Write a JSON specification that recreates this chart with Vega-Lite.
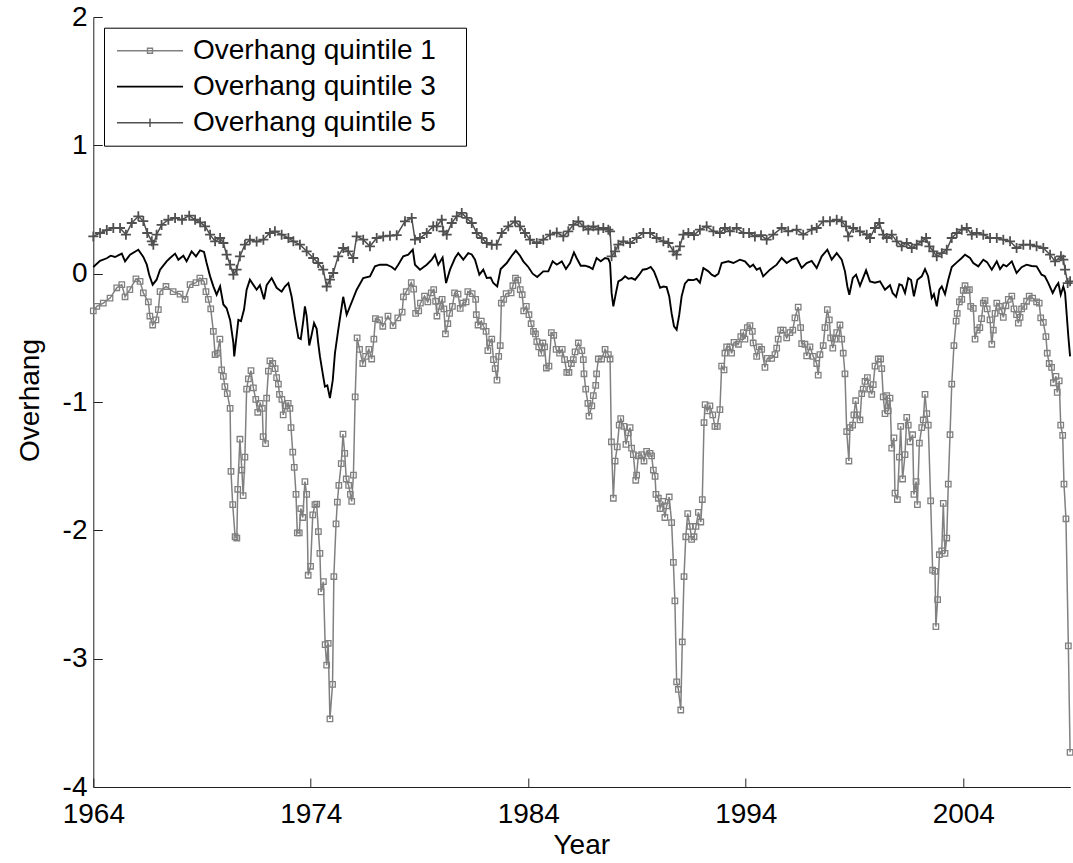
{
"$schema": "https://vega.github.io/schema/vega-lite/v6.json",
"width": 977, "height": 770,
"autosize": {"type": "none"},
"padding": {"left": 93.3, "top": 17, "right": 2.7, "bottom": 76},
"background": "white",
"config": {"view": {"stroke": null}, "font": "Liberation Sans"},
"datasets": {
"q1": [
{"t":1964.00,"v":-0.29},{"t":1964.16,"v":-0.255},{"t":1964.46,"v":-0.23},{"t":1964.77,"v":-0.19},{"t":1965.08,"v":-0.11},{"t":1965.31,"v":-0.086},{"t":1965.46,"v":-0.18},{"t":1965.68,"v":-0.125},{"t":1965.96,"v":-0.04},{"t":1966.15,"v":-0.06},{"t":1966.30,"v":-0.15},{"t":1966.53,"v":-0.22},{"t":1966.60,"v":-0.33},{"t":1966.73,"v":-0.40},{"t":1966.88,"v":-0.36},{"t":1966.99,"v":-0.28},{"t":1967.07,"v":-0.14},{"t":1967.34,"v":-0.10},{"t":1967.67,"v":-0.14},{"t":1967.99,"v":-0.16},{"t":1968.22,"v":-0.20},{"t":1968.45,"v":-0.086},{"t":1968.72,"v":-0.07},{"t":1968.90,"v":-0.034},{"t":1969.09,"v":-0.06},{"t":1969.18,"v":-0.14},{"t":1969.29,"v":-0.20},{"t":1969.40,"v":-0.275},{"t":1969.52,"v":-0.45},{"t":1969.60,"v":-0.63},{"t":1969.70,"v":-0.62},{"t":1969.82,"v":-0.51},{"t":1969.90,"v":-0.75},{"t":1969.98,"v":-0.80},{"t":1970.05,"v":-0.88},{"t":1970.16,"v":-0.935},{"t":1970.29,"v":-1.05},{"t":1970.33,"v":-1.54},{"t":1970.41,"v":-1.80},{"t":1970.52,"v":-2.05},{"t":1970.60,"v":-2.06},{"t":1970.64,"v":-1.68},{"t":1970.74,"v":-1.29},{"t":1970.83,"v":-1.53},{"t":1970.89,"v":-1.73},{"t":1970.97,"v":-1.43},{"t":1971.05,"v":-0.90},{"t":1971.13,"v":-0.82},{"t":1971.25,"v":-0.756},{"t":1971.36,"v":-0.89},{"t":1971.47,"v":-0.98},{"t":1971.56,"v":-1.08},{"t":1971.67,"v":-1.01},{"t":1971.77,"v":-1.05},{"t":1971.81,"v":-1.27},{"t":1971.92,"v":-1.325},{"t":1971.97,"v":-0.97},{"t":1972.05,"v":-0.76},{"t":1972.12,"v":-0.68},{"t":1972.25,"v":-0.70},{"t":1972.36,"v":-0.74},{"t":1972.43,"v":-0.81},{"t":1972.51,"v":-0.86},{"t":1972.56,"v":-0.94},{"t":1972.67,"v":-0.98},{"t":1972.73,"v":-1.10},{"t":1972.86,"v":-1.03},{"t":1972.96,"v":-1.01},{"t":1973.04,"v":-1.05},{"t":1973.09,"v":-1.20},{"t":1973.17,"v":-1.39},{"t":1973.24,"v":-1.51},{"t":1973.32,"v":-1.72},{"t":1973.38,"v":-2.02},{"t":1973.47,"v":-2.02},{"t":1973.54,"v":-1.83},{"t":1973.63,"v":-1.90},{"t":1973.73,"v":-1.62},{"t":1973.81,"v":-1.72},{"t":1973.88,"v":-2.35},{"t":1973.99,"v":-2.28},{"t":1974.09,"v":-1.88},{"t":1974.19,"v":-1.80},{"t":1974.27,"v":-1.795},{"t":1974.35,"v":-2.01},{"t":1974.42,"v":-2.18},{"t":1974.47,"v":-2.48},{"t":1974.58,"v":-2.40},{"t":1974.66,"v":-2.89},{"t":1974.73,"v":-3.05},{"t":1974.80,"v":-2.88},{"t":1974.88,"v":-3.47},{"t":1975.00,"v":-3.20},{"t":1975.06,"v":-2.36},{"t":1975.16,"v":-1.95},{"t":1975.22,"v":-1.78},{"t":1975.29,"v":-1.65},{"t":1975.40,"v":-1.48},{"t":1975.48,"v":-1.25},{"t":1975.56,"v":-1.40},{"t":1975.63,"v":-1.60},{"t":1975.74,"v":-1.65},{"t":1975.82,"v":-1.72},{"t":1975.88,"v":-1.775},{"t":1975.96,"v":-1.57},{"t":1976.04,"v":-0.96},{"t":1976.13,"v":-0.50},{"t":1976.24,"v":-0.59},{"t":1976.39,"v":-0.70},{"t":1976.52,"v":-0.645},{"t":1976.67,"v":-0.59},{"t":1976.80,"v":-0.665},{"t":1976.90,"v":-0.51},{"t":1976.97,"v":-0.35},{"t":1977.16,"v":-0.36},{"t":1977.31,"v":-0.41},{"t":1977.55,"v":-0.33},{"t":1977.78,"v":-0.405},{"t":1978.00,"v":-0.345},{"t":1978.20,"v":-0.30},{"t":1978.26,"v":-0.18},{"t":1978.39,"v":-0.14},{"t":1978.62,"v":-0.07},{"t":1978.73,"v":-0.12},{"t":1978.82,"v":-0.31},{"t":1978.96,"v":-0.29},{"t":1979.04,"v":-0.23},{"t":1979.23,"v":-0.175},{"t":1979.38,"v":-0.22},{"t":1979.54,"v":-0.15},{"t":1979.65,"v":-0.125},{"t":1979.74,"v":-0.215},{"t":1979.80,"v":-0.33},{"t":1979.92,"v":-0.255},{"t":1980.04,"v":-0.20},{"t":1980.12,"v":-0.275},{"t":1980.19,"v":-0.47},{"t":1980.30,"v":-0.39},{"t":1980.38,"v":-0.31},{"t":1980.51,"v":-0.255},{"t":1980.61,"v":-0.15},{"t":1980.77,"v":-0.16},{"t":1980.87,"v":-0.27},{"t":1980.99,"v":-0.23},{"t":1981.14,"v":-0.22},{"t":1981.22,"v":-0.14},{"t":1981.42,"v":-0.156},{"t":1981.58,"v":-0.20},{"t":1981.61,"v":-0.32},{"t":1981.69,"v":-0.40},{"t":1981.84,"v":-0.37},{"t":1981.94,"v":-0.41},{"t":1982.06,"v":-0.45},{"t":1982.14,"v":-0.60},{"t":1982.22,"v":-0.54},{"t":1982.32,"v":-0.51},{"t":1982.40,"v":-0.67},{"t":1982.48,"v":-0.74},{"t":1982.56,"v":-0.83},{"t":1982.64,"v":-0.645},{"t":1982.71,"v":-0.56},{"t":1982.76,"v":-0.23},{"t":1982.87,"v":-0.20},{"t":1982.98,"v":-0.156},{"t":1983.21,"v":-0.15},{"t":1983.29,"v":-0.094},{"t":1983.41,"v":-0.034},{"t":1983.52,"v":-0.05},{"t":1983.63,"v":-0.125},{"t":1983.72,"v":-0.164},{"t":1983.79,"v":-0.29},{"t":1983.91,"v":-0.255},{"t":1984.03,"v":-0.32},{"t":1984.13,"v":-0.39},{"t":1984.24,"v":-0.45},{"t":1984.33,"v":-0.47},{"t":1984.39,"v":-0.53},{"t":1984.48,"v":-0.57},{"t":1984.60,"v":-0.62},{"t":1984.67,"v":-0.54},{"t":1984.75,"v":-0.57},{"t":1984.83,"v":-0.735},{"t":1984.95,"v":-0.72},{"t":1985.06,"v":-0.46},{"t":1985.17,"v":-0.48},{"t":1985.28,"v":-0.59},{"t":1985.44,"v":-0.62},{"t":1985.56,"v":-0.59},{"t":1985.67,"v":-0.67},{"t":1985.77,"v":-0.77},{"t":1985.87,"v":-0.77},{"t":1985.98,"v":-0.70},{"t":1986.07,"v":-0.67},{"t":1986.15,"v":-0.61},{"t":1986.30,"v":-0.54},{"t":1986.46,"v":-0.60},{"t":1986.53,"v":-0.67},{"t":1986.56,"v":-0.78},{"t":1986.64,"v":-0.90},{"t":1986.74,"v":-1.01},{"t":1986.79,"v":-1.11},{"t":1986.92,"v":-1.03},{"t":1986.99,"v":-0.95},{"t":1987.10,"v":-0.87},{"t":1987.14,"v":-0.78},{"t":1987.22,"v":-0.665},{"t":1987.37,"v":-0.665},{"t":1987.53,"v":-0.59},{"t":1987.68,"v":-0.63},{"t":1987.76,"v":-0.665},{"t":1987.82,"v":-1.31},{"t":1987.91,"v":-1.75},{"t":1987.99,"v":-1.46},{"t":1988.09,"v":-1.35},{"t":1988.18,"v":-1.18},{"t":1988.25,"v":-1.13},{"t":1988.40,"v":-1.19},{"t":1988.49,"v":-1.33},{"t":1988.60,"v":-1.24},{"t":1988.68,"v":-1.20},{"t":1988.75,"v":-1.36},{"t":1988.83,"v":-1.41},{"t":1988.94,"v":-1.61},{"t":1988.98,"v":-1.57},{"t":1989.06,"v":-1.42},{"t":1989.21,"v":-1.41},{"t":1989.32,"v":-1.46},{"t":1989.44,"v":-1.385},{"t":1989.60,"v":-1.40},{"t":1989.67,"v":-1.42},{"t":1989.75,"v":-1.53},{"t":1989.83,"v":-1.58},{"t":1989.87,"v":-1.72},{"t":1989.98,"v":-1.75},{"t":1990.06,"v":-1.83},{"t":1990.18,"v":-1.775},{"t":1990.28,"v":-1.90},{"t":1990.36,"v":-1.81},{"t":1990.48,"v":-1.74},{"t":1990.59,"v":-1.94},{"t":1990.67,"v":-2.25},{"t":1990.74,"v":-2.55},{"t":1990.82,"v":-3.18},{"t":1990.90,"v":-3.24},{"t":1991.01,"v":-3.40},{"t":1991.08,"v":-2.87},{"t":1991.16,"v":-2.36},{"t":1991.24,"v":-2.05},{"t":1991.33,"v":-1.87},{"t":1991.43,"v":-1.97},{"t":1991.51,"v":-2.07},{"t":1991.62,"v":-2.05},{"t":1991.71,"v":-1.97},{"t":1991.82,"v":-1.86},{"t":1991.93,"v":-1.935},{"t":1992.00,"v":-1.76},{"t":1992.08,"v":-1.16},{"t":1992.13,"v":-1.02},{"t":1992.23,"v":-1.07},{"t":1992.35,"v":-1.03},{"t":1992.48,"v":-1.10},{"t":1992.58,"v":-1.19},{"t":1992.69,"v":-1.19},{"t":1992.81,"v":-1.06},{"t":1992.89,"v":-0.72},{"t":1993.00,"v":-0.75},{"t":1993.04,"v":-0.62},{"t":1993.12,"v":-0.57},{"t":1993.27,"v":-0.57},{"t":1993.35,"v":-0.62},{"t":1993.46,"v":-0.535},{"t":1993.66,"v":-0.55},{"t":1993.77,"v":-0.49},{"t":1993.89,"v":-0.46},{"t":1993.96,"v":-0.51},{"t":1994.07,"v":-0.42},{"t":1994.19,"v":-0.405},{"t":1994.30,"v":-0.45},{"t":1994.34,"v":-0.54},{"t":1994.50,"v":-0.645},{"t":1994.62,"v":-0.57},{"t":1994.73,"v":-0.59},{"t":1994.88,"v":-0.73},{"t":1994.99,"v":-0.66},{"t":1995.19,"v":-0.66},{"t":1995.34,"v":-0.63},{"t":1995.42,"v":-0.58},{"t":1995.49,"v":-0.51},{"t":1995.60,"v":-0.44},{"t":1995.72,"v":-0.44},{"t":1995.88,"v":-0.50},{"t":1996.03,"v":-0.46},{"t":1996.16,"v":-0.44},{"t":1996.26,"v":-0.345},{"t":1996.41,"v":-0.26},{"t":1996.52,"v":-0.42},{"t":1996.57,"v":-0.545},{"t":1996.72,"v":-0.55},{"t":1996.80,"v":-0.64},{"t":1996.95,"v":-0.57},{"t":1997.10,"v":-0.645},{"t":1997.26,"v":-0.70},{"t":1997.33,"v":-0.79},{"t":1997.41,"v":-0.63},{"t":1997.56,"v":-0.56},{"t":1997.64,"v":-0.42},{"t":1997.75,"v":-0.28},{"t":1997.84,"v":-0.36},{"t":1997.90,"v":-0.50},{"t":1998.00,"v":-0.58},{"t":1998.10,"v":-0.51},{"t":1998.18,"v":-0.46},{"t":1998.33,"v":-0.40},{"t":1998.41,"v":-0.51},{"t":1998.48,"v":-0.62},{"t":1998.56,"v":-0.78},{"t":1998.64,"v":-1.23},{"t":1998.74,"v":-1.46},{"t":1998.79,"v":-1.20},{"t":1998.91,"v":-1.18},{"t":1998.97,"v":-1.10},{"t":1999.05,"v":-0.99},{"t":1999.13,"v":-1.10},{"t":1999.25,"v":-1.14},{"t":1999.33,"v":-0.935},{"t":1999.40,"v":-0.90},{"t":1999.48,"v":-0.84},{"t":1999.59,"v":-0.81},{"t":1999.71,"v":-0.90},{"t":1999.79,"v":-0.94},{"t":1999.86,"v":-0.865},{"t":1999.94,"v":-0.72},{"t":2000.09,"v":-0.665},{"t":2000.20,"v":-0.665},{"t":2000.25,"v":-0.74},{"t":2000.32,"v":-0.96},{"t":2000.40,"v":-1.09},{"t":2000.48,"v":-0.95},{"t":2000.55,"v":-1.07},{"t":2000.63,"v":-0.97},{"t":2000.71,"v":-1.36},{"t":2000.81,"v":-1.28},{"t":2000.86,"v":-1.71},{"t":2000.97,"v":-1.76},{"t":2001.06,"v":-1.43},{"t":2001.12,"v":-1.19},{"t":2001.21,"v":-1.60},{"t":2001.32,"v":-1.41},{"t":2001.40,"v":-1.12},{"t":2001.47,"v":-1.18},{"t":2001.55,"v":-1.31},{"t":2001.67,"v":-1.255},{"t":2001.73,"v":-1.72},{"t":2001.83,"v":-1.62},{"t":2001.89,"v":-1.80},{"t":2001.98,"v":-1.32},{"t":2002.09,"v":-1.20},{"t":2002.16,"v":-1.14},{"t":2002.24,"v":-0.94},{"t":2002.32,"v":-1.09},{"t":2002.39,"v":-1.18},{"t":2002.50,"v":-1.77},{"t":2002.59,"v":-2.31},{"t":2002.70,"v":-2.32},{"t":2002.74,"v":-2.75},{"t":2002.82,"v":-2.54},{"t":2002.90,"v":-2.19},{"t":2003.01,"v":-2.16},{"t":2003.08,"v":-1.79},{"t":2003.16,"v":-2.18},{"t":2003.24,"v":-2.06},{"t":2003.31,"v":-1.64},{"t":2003.39,"v":-1.255},{"t":2003.47,"v":-0.86},{"t":2003.57,"v":-0.56},{"t":2003.67,"v":-0.37},{"t":2003.72,"v":-0.31},{"t":2003.82,"v":-0.22},{"t":2003.93,"v":-0.20},{"t":2004.00,"v":-0.13},{"t":2004.08,"v":-0.094},{"t":2004.18,"v":-0.13},{"t":2004.28,"v":-0.125},{"t":2004.34,"v":-0.255},{"t":2004.46,"v":-0.27},{"t":2004.54,"v":-0.51},{"t":2004.64,"v":-0.44},{"t":2004.76,"v":-0.42},{"t":2004.84,"v":-0.35},{"t":2004.92,"v":-0.23},{"t":2005.00,"v":-0.21},{"t":2005.10,"v":-0.275},{"t":2005.23,"v":-0.36},{"t":2005.31,"v":-0.55},{"t":2005.38,"v":-0.44},{"t":2005.46,"v":-0.31},{"t":2005.54,"v":-0.23},{"t":2005.66,"v":-0.255},{"t":2005.77,"v":-0.29},{"t":2005.84,"v":-0.34},{"t":2005.96,"v":-0.25},{"t":2006.07,"v":-0.20},{"t":2006.23,"v":-0.175},{"t":2006.33,"v":-0.275},{"t":2006.45,"v":-0.32},{"t":2006.53,"v":-0.385},{"t":2006.61,"v":-0.34},{"t":2006.68,"v":-0.275},{"t":2006.79,"v":-0.255},{"t":2006.91,"v":-0.215},{"t":2007.03,"v":-0.175},{"t":2007.19,"v":-0.19},{"t":2007.37,"v":-0.22},{"t":2007.49,"v":-0.23},{"t":2007.56,"v":-0.345},{"t":2007.68,"v":-0.38},{"t":2007.80,"v":-0.49},{"t":2007.86,"v":-0.62},{"t":2007.95,"v":-0.70},{"t":2008.06,"v":-0.73},{"t":2008.14,"v":-0.85},{"t":2008.26,"v":-0.80},{"t":2008.32,"v":-0.925},{"t":2008.41,"v":-0.835},{"t":2008.48,"v":-1.18},{"t":2008.57,"v":-1.26},{"t":2008.63,"v":-1.64},{"t":2008.72,"v":-1.91},{"t":2008.83,"v":-2.90},{"t":2008.91,"v":-3.73}
],
"q3": [
{"t":1964.00,"v":0.052},{"t":1964.31,"v":0.10},{"t":1964.62,"v":0.12},{"t":1964.80,"v":0.14},{"t":1965.00,"v":0.13},{"t":1965.31,"v":0.156},{"t":1965.46,"v":0.096},{"t":1965.69,"v":0.148},{"t":1966.07,"v":0.187},{"t":1966.30,"v":0.13},{"t":1966.46,"v":0.07},{"t":1966.57,"v":-0.008},{"t":1966.73,"v":-0.086},{"t":1966.91,"v":-0.047},{"t":1967.07,"v":0.031},{"t":1967.37,"v":0.096},{"t":1967.53,"v":0.122},{"t":1967.76,"v":0.156},{"t":1967.91,"v":0.109},{"t":1968.14,"v":0.14},{"t":1968.29,"v":0.096},{"t":1968.52,"v":0.174},{"t":1968.72,"v":0.135},{"t":1968.91,"v":0.182},{"t":1969.09,"v":0.17},{"t":1969.21,"v":0.083},{"t":1969.37,"v":-0.021},{"t":1969.52,"v":-0.099},{"t":1969.67,"v":-0.164},{"t":1969.83,"v":-0.099},{"t":1969.98,"v":-0.24},{"t":1970.13,"v":-0.27},{"t":1970.29,"v":-0.36},{"t":1970.44,"v":-0.54},{"t":1970.48,"v":-0.645},{"t":1970.67,"v":-0.36},{"t":1970.79,"v":-0.37},{"t":1970.93,"v":-0.28},{"t":1971.05,"v":-0.125},{"t":1971.20,"v":-0.047},{"t":1971.51,"v":-0.125},{"t":1971.66,"v":-0.09},{"t":1971.85,"v":-0.20},{"t":1971.97,"v":-0.09},{"t":1972.20,"v":-0.034},{"t":1972.43,"v":-0.11},{"t":1972.66,"v":-0.14},{"t":1972.81,"v":-0.10},{"t":1972.97,"v":-0.073},{"t":1973.12,"v":-0.18},{"t":1973.27,"v":-0.345},{"t":1973.43,"v":-0.50},{"t":1973.54,"v":-0.51},{"t":1973.66,"v":-0.36},{"t":1973.73,"v":-0.255},{"t":1973.81,"v":-0.33},{"t":1973.93,"v":-0.56},{"t":1974.04,"v":-0.475},{"t":1974.15,"v":-0.385},{"t":1974.27,"v":-0.43},{"t":1974.34,"v":-0.54},{"t":1974.42,"v":-0.645},{"t":1974.57,"v":-0.80},{"t":1974.65,"v":-0.88},{"t":1974.76,"v":-0.87},{"t":1974.88,"v":-0.97},{"t":1975.01,"v":-0.83},{"t":1975.11,"v":-0.62},{"t":1975.26,"v":-0.44},{"t":1975.49,"v":-0.18},{"t":1975.65,"v":-0.32},{"t":1976.11,"v":-0.125},{"t":1976.41,"v":-0.034},{"t":1976.72,"v":-0.021},{"t":1976.95,"v":0.057},{"t":1977.18,"v":0.07},{"t":1977.49,"v":0.07},{"t":1977.72,"v":0.052},{"t":1977.87,"v":0.031},{"t":1978.02,"v":0.07},{"t":1978.25,"v":0.135},{"t":1978.48,"v":0.148},{"t":1978.69,"v":0.187},{"t":1978.79,"v":0.07},{"t":1979.02,"v":0.031},{"t":1979.33,"v":0.07},{"t":1979.56,"v":0.109},{"t":1979.71,"v":0.148},{"t":1979.86,"v":0.07},{"t":1980.06,"v":0.125},{"t":1980.22,"v":-0.073},{"t":1980.40,"v":0.031},{"t":1980.63,"v":0.122},{"t":1980.78,"v":0.16},{"t":1981.01,"v":0.109},{"t":1981.24,"v":0.16},{"t":1981.40,"v":0.15},{"t":1981.55,"v":0.109},{"t":1981.75,"v":-0.008},{"t":1981.93,"v":0.031},{"t":1982.09,"v":-0.034},{"t":1982.27,"v":-0.03},{"t":1982.39,"v":-0.073},{"t":1982.57,"v":-0.10},{"t":1982.73,"v":0.036},{"t":1983.01,"v":0.083},{"t":1983.24,"v":0.14},{"t":1983.43,"v":0.18},{"t":1983.62,"v":0.14},{"t":1983.77,"v":0.096},{"t":1984.00,"v":0.052},{"t":1984.20,"v":0.0},{"t":1984.41,"v":-0.026},{"t":1984.69,"v":0.018},{"t":1984.92,"v":0.018},{"t":1985.12,"v":0.096},{"t":1985.31,"v":0.07},{"t":1985.54,"v":0.096},{"t":1985.73,"v":0.036},{"t":1985.92,"v":0.083},{"t":1986.10,"v":0.166},{"t":1986.22,"v":0.122},{"t":1986.41,"v":0.062},{"t":1986.61,"v":0.062},{"t":1986.80,"v":0.052},{"t":1986.96,"v":0.036},{"t":1987.14,"v":0.122},{"t":1987.33,"v":0.096},{"t":1987.53,"v":0.122},{"t":1987.68,"v":0.115},{"t":1987.76,"v":0.083},{"t":1987.83,"v":-0.15},{"t":1987.91,"v":-0.255},{"t":1988.03,"v":-0.15},{"t":1988.14,"v":-0.06},{"t":1988.29,"v":-0.047},{"t":1988.45,"v":-0.021},{"t":1988.60,"v":-0.04},{"t":1988.75,"v":-0.034},{"t":1988.91,"v":-0.047},{"t":1989.10,"v":-0.008},{"t":1989.26,"v":0.031},{"t":1989.44,"v":0.036},{"t":1989.63,"v":0.052},{"t":1989.78,"v":0.018},{"t":1989.90,"v":-0.034},{"t":1990.06,"v":-0.11},{"t":1990.21,"v":-0.10},{"t":1990.36,"v":-0.105},{"t":1990.48,"v":-0.177},{"t":1990.59,"v":-0.31},{"t":1990.70,"v":-0.41},{"t":1990.82,"v":-0.436},{"t":1990.94,"v":-0.32},{"t":1991.05,"v":-0.177},{"t":1991.20,"v":-0.078},{"t":1991.36,"v":-0.047},{"t":1991.59,"v":-0.05},{"t":1991.74,"v":-0.04},{"t":1991.89,"v":-0.07},{"t":1992.05,"v":0.044},{"t":1992.28,"v":0.018},{"t":1992.43,"v":-0.008},{"t":1992.58,"v":-0.021},{"t":1992.74,"v":0.0},{"t":1992.89,"v":0.083},{"t":1993.20,"v":0.096},{"t":1993.43,"v":0.083},{"t":1993.73,"v":0.109},{"t":1993.96,"v":0.096},{"t":1994.19,"v":0.052},{"t":1994.34,"v":0.07},{"t":1994.50,"v":0.031},{"t":1994.65,"v":0.044},{"t":1994.80,"v":-0.021},{"t":1995.11,"v":0.031},{"t":1995.42,"v":0.07},{"t":1995.65,"v":0.122},{"t":1995.88,"v":0.083},{"t":1996.11,"v":0.109},{"t":1996.34,"v":0.122},{"t":1996.57,"v":0.044},{"t":1996.80,"v":0.083},{"t":1997.03,"v":0.10},{"t":1997.26,"v":0.044},{"t":1997.49,"v":0.135},{"t":1997.75,"v":0.187},{"t":1997.95,"v":0.109},{"t":1998.18,"v":0.16},{"t":1998.41,"v":0.109},{"t":1998.56,"v":0.018},{"t":1998.67,"v":-0.10},{"t":1998.76,"v":-0.164},{"t":1998.92,"v":-0.034},{"t":1999.07,"v":-0.008},{"t":1999.25,"v":-0.094},{"t":1999.53,"v":0.026},{"t":1999.71,"v":-0.06},{"t":1999.94,"v":-0.07},{"t":2000.17,"v":-0.06},{"t":2000.40,"v":-0.125},{"t":2000.63,"v":-0.09},{"t":2000.75,"v":-0.15},{"t":2000.91,"v":-0.18},{"t":2001.06,"v":-0.083},{"t":2001.18,"v":-0.09},{"t":2001.32,"v":-0.15},{"t":2001.47,"v":-0.034},{"t":2001.60,"v":-0.05},{"t":2001.73,"v":-0.177},{"t":2001.89,"v":-0.047},{"t":2002.09,"v":-0.021},{"t":2002.24,"v":0.036},{"t":2002.38,"v":-0.02},{"t":2002.55,"v":-0.19},{"t":2002.65,"v":-0.16},{"t":2002.78,"v":-0.255},{"t":2002.90,"v":-0.125},{"t":2003.01,"v":-0.10},{"t":2003.16,"v":-0.16},{"t":2003.31,"v":-0.047},{"t":2003.47,"v":0.052},{"t":2003.70,"v":0.088},{"t":2003.93,"v":0.122},{"t":2004.08,"v":0.148},{"t":2004.31,"v":0.122},{"t":2004.46,"v":0.083},{"t":2004.69,"v":0.057},{"t":2004.92,"v":0.109},{"t":2005.09,"v":0.09},{"t":2005.31,"v":0.031},{"t":2005.54,"v":0.096},{"t":2005.69,"v":0.036},{"t":2005.84,"v":0.07},{"t":2005.99,"v":0.057},{"t":2006.23,"v":0.096},{"t":2006.45,"v":0.005},{"t":2006.68,"v":0.05},{"t":2006.91,"v":0.07},{"t":2007.14,"v":0.06},{"t":2007.37,"v":0.057},{"t":2007.60,"v":-0.008},{"t":2007.75,"v":-0.02},{"t":2007.91,"v":-0.073},{"t":2008.11,"v":-0.15},{"t":2008.26,"v":-0.10},{"t":2008.37,"v":-0.073},{"t":2008.48,"v":-0.164},{"t":2008.60,"v":-0.10},{"t":2008.68,"v":-0.15},{"t":2008.83,"v":-0.49},{"t":2008.91,"v":-0.645}
],
"q5": [
{"t":1964.00,"v":0.29},{"t":1964.31,"v":0.317},{"t":1964.62,"v":0.34},{"t":1964.92,"v":0.356},{"t":1965.23,"v":0.356},{"t":1965.50,"v":0.304},{"t":1965.77,"v":0.395},{"t":1966.07,"v":0.447},{"t":1966.30,"v":0.41},{"t":1966.48,"v":0.317},{"t":1966.69,"v":0.252},{"t":1966.76,"v":0.226},{"t":1966.91,"v":0.304},{"t":1967.14,"v":0.38},{"t":1967.45,"v":0.42},{"t":1967.76,"v":0.434},{"t":1968.08,"v":0.42},{"t":1968.41,"v":0.452},{"t":1968.68,"v":0.42},{"t":1968.91,"v":0.40},{"t":1969.14,"v":0.369},{"t":1969.37,"v":0.304},{"t":1969.60,"v":0.252},{"t":1969.83,"v":0.278},{"t":1969.98,"v":0.239},{"t":1970.13,"v":0.148},{"t":1970.29,"v":0.07},{"t":1970.44,"v":-0.008},{"t":1970.59,"v":0.031},{"t":1970.74,"v":0.135},{"t":1970.97,"v":0.226},{"t":1971.20,"v":0.265},{"t":1971.51,"v":0.25},{"t":1971.82,"v":0.265},{"t":1972.12,"v":0.317},{"t":1972.35,"v":0.33},{"t":1972.66,"v":0.304},{"t":1972.97,"v":0.278},{"t":1973.20,"v":0.252},{"t":1973.50,"v":0.226},{"t":1973.81,"v":0.174},{"t":1974.11,"v":0.122},{"t":1974.34,"v":0.083},{"t":1974.57,"v":0.031},{"t":1974.73,"v":-0.10},{"t":1974.88,"v":-0.047},{"t":1975.03,"v":0.005},{"t":1975.26,"v":0.135},{"t":1975.49,"v":0.20},{"t":1975.72,"v":0.174},{"t":1975.95,"v":0.122},{"t":1976.11,"v":0.29},{"t":1976.41,"v":0.265},{"t":1976.72,"v":0.213},{"t":1977.03,"v":0.278},{"t":1977.33,"v":0.29},{"t":1977.64,"v":0.296},{"t":1977.95,"v":0.30},{"t":1978.33,"v":0.408},{"t":1978.64,"v":0.434},{"t":1978.79,"v":0.265},{"t":1979.02,"v":0.278},{"t":1979.33,"v":0.317},{"t":1979.63,"v":0.369},{"t":1979.79,"v":0.369},{"t":1980.02,"v":0.42},{"t":1980.09,"v":0.33},{"t":1980.25,"v":0.304},{"t":1980.48,"v":0.395},{"t":1980.71,"v":0.447},{"t":1980.94,"v":0.473},{"t":1981.17,"v":0.434},{"t":1981.40,"v":0.395},{"t":1981.63,"v":0.317},{"t":1981.86,"v":0.278},{"t":1982.09,"v":0.239},{"t":1982.32,"v":0.226},{"t":1982.55,"v":0.226},{"t":1982.78,"v":0.317},{"t":1983.08,"v":0.369},{"t":1983.39,"v":0.408},{"t":1983.62,"v":0.369},{"t":1983.85,"v":0.317},{"t":1984.08,"v":0.265},{"t":1984.39,"v":0.239},{"t":1984.69,"v":0.265},{"t":1985.00,"v":0.304},{"t":1985.31,"v":0.32},{"t":1985.61,"v":0.29},{"t":1985.84,"v":0.33},{"t":1986.07,"v":0.38},{"t":1986.30,"v":0.408},{"t":1986.53,"v":0.369},{"t":1986.76,"v":0.343},{"t":1986.99,"v":0.369},{"t":1987.22,"v":0.343},{"t":1987.45,"v":0.356},{"t":1987.68,"v":0.343},{"t":1987.76,"v":0.33},{"t":1987.83,"v":0.135},{"t":1987.99,"v":0.174},{"t":1988.14,"v":0.226},{"t":1988.37,"v":0.252},{"t":1988.68,"v":0.239},{"t":1988.98,"v":0.278},{"t":1989.29,"v":0.317},{"t":1989.60,"v":0.317},{"t":1989.90,"v":0.278},{"t":1990.21,"v":0.252},{"t":1990.44,"v":0.239},{"t":1990.67,"v":0.174},{"t":1990.82,"v":0.148},{"t":1990.97,"v":0.213},{"t":1991.13,"v":0.304},{"t":1991.36,"v":0.317},{"t":1991.62,"v":0.30},{"t":1991.89,"v":0.343},{"t":1992.20,"v":0.369},{"t":1992.51,"v":0.33},{"t":1992.81,"v":0.317},{"t":1993.04,"v":0.356},{"t":1993.27,"v":0.33},{"t":1993.58,"v":0.356},{"t":1993.89,"v":0.317},{"t":1994.15,"v":0.317},{"t":1994.42,"v":0.29},{"t":1994.70,"v":0.30},{"t":1994.96,"v":0.265},{"t":1995.26,"v":0.304},{"t":1995.65,"v":0.356},{"t":1995.95,"v":0.33},{"t":1996.34,"v":0.343},{"t":1996.64,"v":0.304},{"t":1997.03,"v":0.343},{"t":1997.26,"v":0.356},{"t":1997.56,"v":0.408},{"t":1997.87,"v":0.408},{"t":1998.18,"v":0.42},{"t":1998.41,"v":0.408},{"t":1998.61,"v":0.369},{"t":1998.71,"v":0.29},{"t":1998.94,"v":0.356},{"t":1999.25,"v":0.33},{"t":1999.56,"v":0.304},{"t":1999.71,"v":0.278},{"t":1999.94,"v":0.356},{"t":2000.14,"v":0.395},{"t":2000.32,"v":0.304},{"t":2000.48,"v":0.278},{"t":2000.71,"v":0.304},{"t":2000.94,"v":0.252},{"t":2001.17,"v":0.213},{"t":2001.40,"v":0.239},{"t":2001.63,"v":0.20},{"t":2001.86,"v":0.226},{"t":2002.09,"v":0.252},{"t":2002.29,"v":0.278},{"t":2002.44,"v":0.213},{"t":2002.62,"v":0.174},{"t":2002.78,"v":0.135},{"t":2003.01,"v":0.16},{"t":2003.24,"v":0.187},{"t":2003.47,"v":0.278},{"t":2003.70,"v":0.317},{"t":2003.93,"v":0.343},{"t":2004.16,"v":0.356},{"t":2004.39,"v":0.304},{"t":2004.62,"v":0.317},{"t":2004.92,"v":0.304},{"t":2005.23,"v":0.278},{"t":2005.54,"v":0.278},{"t":2005.84,"v":0.265},{"t":2006.15,"v":0.252},{"t":2006.45,"v":0.20},{"t":2006.76,"v":0.226},{"t":2007.07,"v":0.226},{"t":2007.37,"v":0.213},{"t":2007.68,"v":0.20},{"t":2007.99,"v":0.148},{"t":2008.22,"v":0.096},{"t":2008.49,"v":0.135},{"t":2008.60,"v":0.109},{"t":2008.68,"v":0.031},{"t":2008.80,"v":-0.073},{"t":2008.91,"v":-0.06}
]
},
"encoding": {
"x": {"field": "t", "type": "quantitative",
 "scale": {"domain": [1964, 2008.92], "nice": false, "zero": false},
 "axis": {"values": [1964, 1974, 1984, 1994, 2004], "labelExpr": "'' + datum.value", "grid": false,
  "tickSize": -9, "tickColor": "#222", "domainColor": "#222", "tickWidth": 1, "domainWidth": 1,
  "labelFont": "Liberation Sans", "labelFontSize": 28, "labelColor": "black", "labelBaseline": "alphabetic", "labelPadding": 44.7, "labelFlush": false, "labelOverlap": false,
  "title": "Year", "titleFont": "Liberation Sans", "titleFontSize": 28, "titleFontWeight": "normal", "titleColor": "black",
  "titleX": 488, "titleY": 66, "titleBaseline": "alphabetic", "titleAlign": "center", "titleAnchor": null}},
"y": {"field": "v", "type": "quantitative",
 "scale": {"domain": [-4, 2], "nice": false, "zero": false},
 "axis": {"values": [-4, -3, -2, -1, 0, 1, 2], "labelExpr": "'' + datum.value", "grid": false,
  "tickSize": -9, "tickColor": "#222", "domainColor": "#222", "tickWidth": 1, "domainWidth": 1,
  "labelFont": "Liberation Sans", "labelFontSize": 28, "labelColor": "black", "labelPadding": 15.3, "labelFlush": false, "labelOverlap": false,
  "title": "Overhang", "titleFont": "Liberation Sans", "titleFontSize": 28, "titleFontWeight": "normal", "titleColor": "black",
  "titleX": -55, "titleY": 383, "titleAngle": 270, "titleBaseline": "alphabetic", "titleAlign": "center", "titleAnchor": null}}
},
"layer": [
{"data": {"name": "q1"}, "mark": {"type": "line", "strokeWidth": 1.5, "color": "#808080"}, "encoding": {"color": {"datum": "1", "type": "nominal",
   "scale": {"domain": ["1", "3", "5"], "range": ["#808080", "#000000", "#505050"]},
   "legend": {"orient": "none", "legendX": 10.7, "legendY": 10.7, "title": null, "direction": "vertical",
    "fillColor": "white", "strokeColor": "black", "padding": 9,
    "labelFont": "Liberation Sans", "labelFontSize": 28, "labelColor": "black", "labelOffset": 52, "rowPadding": 8, "labelLimit": 600,
    "symbolSize": 400, "symbolStrokeWidth": 1.5, "labelExpr": "'Overhang quintile ' + datum.label",
    "encode": {"symbols": {"update": {
      "shape": {"signal": "datum.value === '1' ? 'M-1,0H5.6M2.05,-0.25H2.55V0.25H2.05ZM32.6,0' : (datum.value === '3' ? 'M-1,0H5.6M32.6,0' : 'M-1,0H5.6M1.88,0H2.72M2.3,-0.42V0.42M32.6,0')"},
      "fill": {"value": "transparent"},
      "strokeWidth": {"signal": "datum.value === '3' ? 1.8 : 1.4"}}}}}}}},
{"data": {"name": "q1"}, "mark": {"type": "point", "shape": "square", "filled": false, "size": 30, "strokeWidth": 1.3, "color": "#808080", "opacity": 1}},
{"data": {"name": "q3"}, "mark": {"type": "line", "strokeWidth": 1.9}, "encoding": {"color": {"datum": "3", "type": "nominal"}}},
{"data": {"name": "q5"}, "mark": {"type": "line", "strokeWidth": 1.5}, "encoding": {"color": {"datum": "5", "type": "nominal"}}},
{"data": {"name": "q5"}, "mark": {"type": "point", "shape": "M-1,0H1M0,-1V1", "filled": false, "size": 100, "strokeWidth": 1.8, "color": "#505050", "opacity": 1}}
]
}
